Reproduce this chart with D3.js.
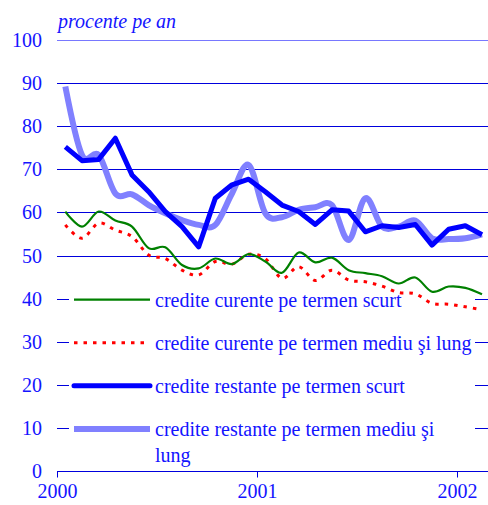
<!DOCTYPE html>
<html>
<head>
    <meta charset="UTF-8">
    <title>Rate ale dobanzii</title>
    <script src="https://d3js.org/d3.v7.min.js"></script>
</head>
<body style="margin:0">
    <svg id="chart"></svg>
    <script>
        // monthly values, Jan 2000 .. Feb 2002 (percent per year)
        const curenteScurt = [60.2, 56.7, 60.2, 58.1, 56.7, 51.7, 51.9, 47.8, 47.0, 49.3, 48.0, 50.3, 48.6,
            46.0, 50.7, 48.4, 49.5, 46.6, 45.9, 45.2, 43.5, 44.9, 41.6, 42.8, 42.5, 41.0];
        const curenteMediu = [57.1, 54.0, 57.5, 55.9, 54.4, 50.1, 49.3, 46.6, 45.5, 48.6, 48.0, 50.3, 49.3,
            44.7, 47.4, 44.2, 46.6, 44.3, 43.9, 42.9, 41.4, 41.1, 38.9, 38.7, 38.1, 37.4];
        const restanteScurt = [75.2, 72.0, 72.3, 77.2, 68.7, 64.8, 60.2, 56.7, 52.0, 63.3, 66.4, 67.7, 64.8,
            61.7, 60.2, 57.2, 60.6, 60.3, 55.5, 56.9, 56.5, 57.2, 52.4, 56.1, 56.9, 54.8];
        const restanteMediu = [89.2, 73.3, 73.3, 64.4, 64.2, 61.7, 59.8, 58.2, 57.1, 57.1, 64.4, 71.0, 59.8,
            58.9, 60.6, 61.2, 61.7, 53.6, 63.3, 56.7, 56.7, 58.1, 54.0, 53.8, 54.0, 54.9];

        const yTicks = [0, 10, 20, 30, 40, 50, 60, 70, 80, 90, 100];
        const xTicks = [2000, 2001, 2002];

        const seriesNames = [
            "credite curente pe termen scurt",
            "credite curente pe termen mediu şi lung",
            "credite restante pe termen scurt",
            "credite restante pe termen mediu şi lung"
        ];

        const FONT = 'Liberation Serif';
        const TEXT = '#1414ff';

        const width = 488, height = 505;
        const svg = d3.select('#chart').attr('width', width).attr('height', height);

        const x = d3.scaleLinear().domain([2000, 2002.155]).range([57, 488]);
        const y = d3.scaleLinear().domain([0, 100]).range([471, 40]);

        const monthX = i => x(2000 + (i + 0.5) / 12);

        // gridlines
        svg.append('g').selectAll('line')
            .data(yTicks.filter(d => d > 0))
            .join('line')
            .attr('x1', 57).attr('x2', 488)
            .attr('y1', d => Math.round(y(d)) + 0.5).attr('y2', d => Math.round(y(d)) + 0.5)
            .attr('stroke-width', 1)
            .attr('stroke', d => d === 100 ? '#7878ff' : '#0000dd');

        // y labels
        svg.append('g').selectAll('text')
            .data(yTicks)
            .join('text')
            .attr('x', 42)
            .attr('y', d => y(d) + 7)
            .attr('text-anchor', 'end')
            .attr('font-family', FONT)
            .attr('font-size', 20)
            .attr('fill', TEXT)
            .text(d => d);

        // x axis
        const xAxis = svg.append('g')
            .attr('transform', 'translate(0,' + (Math.round(y(0)) + 0.5) + ')')
            .call(d3.axisBottom(x).tickValues(xTicks).tickFormat(d3.format('d')).tickSize(6).tickPadding(6));
        xAxis.attr('font-family', FONT).attr('font-size', 20);
        xAxis.select('.domain').attr('stroke', '#0000dd').attr('d', 'M57,0H488');
        xAxis.selectAll('.tick line').attr('stroke', '#0000dd');
        xAxis.selectAll('.tick text').attr('fill', TEXT);

        // title
        svg.append('text')
            .attr('x', 58).attr('y', 28)
            .attr('font-family', FONT)
            .attr('font-size', 20)
            .attr('font-style', 'italic')
            .attr('fill', TEXT)
            .text('procente pe an');

        const smooth = d3.line()
            .x((d, i) => monthX(i))
            .y(d => y(d))
            .curve(d3.curveCardinal.tension(0));
        const straight = d3.line()
            .x((d, i) => monthX(i))
            .y(d => y(d));

        const styles = [
            { data: curenteScurt, gen: smooth, color: '#008000', w: 2.2, dash: null },
            { data: curenteMediu, gen: smooth, color: '#ff0000', w: 3, dash: '3.5,6' },
            { data: restanteScurt, gen: straight, color: '#0000ff', w: 5, dash: null },
            { data: restanteMediu, gen: smooth, color: '#8080ff', w: 6, dash: null }
        ];

        // legend background (hides gridlines)
        svg.append('rect')
            .attr('x', 69).attr('y', 284)
            .attr('width', 406).attr('height', 184)
            .attr('fill', '#fff');

        const lines = svg.append('g');
        // draw order: light blue first, then dark blue, red, green
        [3, 2, 1, 0].forEach(k => {
            const s = styles[k];
            lines.append('path')
                .attr('d', s.gen(s.data))
                .attr('fill', 'none')
                .attr('stroke', s.color)
                .attr('stroke-width', s.w)
                .attr('stroke-linejoin', 'round')
                .attr('stroke-dasharray', s.dash);
        });

        // legend
        const legY = [y(40), y(30), y(20), y(10)];
        const legend = svg.append('g');
        styles.forEach((s, k) => {
            legend.append('line')
                .attr('x1', 74).attr('x2', 150)
                .attr('y1', legY[k] + 1).attr('y2', legY[k] + 1)
                .attr('stroke', s.color)
                .attr('stroke-width', s.w)
                .attr('stroke-linecap', k === 2 ? 'round' : 'butt')
                .attr('stroke-dasharray', s.dash);
        });
        legend.selectAll('text')
            .data(seriesNames)
            .join('text')
            .attr('x', 155)
            .attr('y', (d, k) => legY[k] + 8)
            .attr('font-family', FONT)
            .attr('font-size', 20)
            .attr('fill', TEXT)
            .each(function (d, k) {
                const t = d3.select(this);
                if (k === 3) {
                    t.append('tspan').attr('x', 155).text('credite restante pe termen mediu şi');
                    t.append('tspan').attr('x', 155).attr('dy', 26).text('lung');
                } else {
                    t.text(d);
                }
            });
    </script>
</body>
</html>
